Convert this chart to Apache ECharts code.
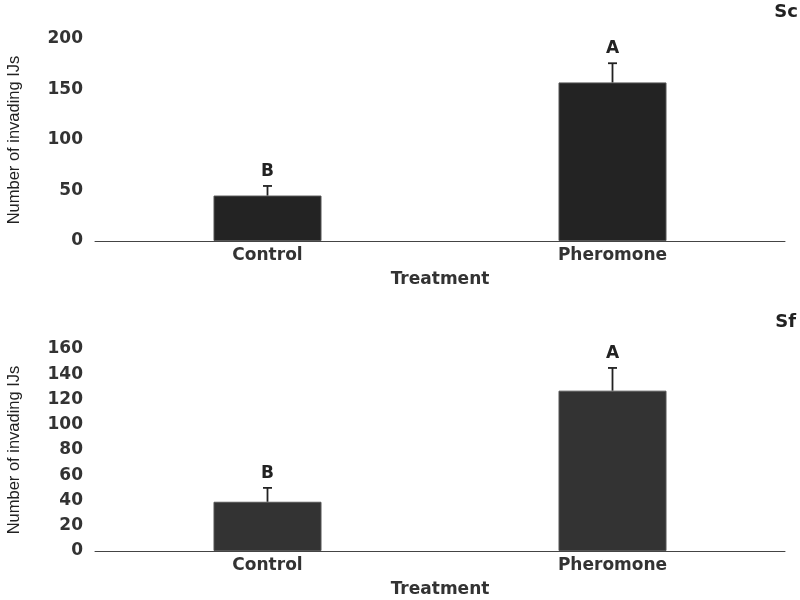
<!DOCTYPE html>
<html>
<head>
<meta charset="utf-8">
<script src="https://cdn.jsdelivr.net/npm/echarts@6/dist/echarts.min.js"></script>
<style>html,body{margin:0;padding:0;background:#fff}#main{width:800px;height:600px}</style>
</head>
<body>
<div id="main"></div>
<script>
const categories = ['Control', 'Pheromone'];
const scMeans = [45, 157];
const scErr = [9.5, 19];
const scLetters = ['B', 'A'];
const sfMeans = [39, 127];
const sfErr = [11, 18];
const sfLetters = ['B', 'A'];
const scTicks = {min: 0, max: 200, interval: 50};
const sfTicks = {min: 0, max: 160, interval: 20};

const boldFont = 'DejaVu Sans';
const txtColor = '#333';

function errSeries(idx, means, errs, letters) {
  return {
    type: 'custom',
    xAxisIndex: idx, yAxisIndex: idx,
    data: means.map((m, i) => [i, m, errs[i], letters[i]]),
    z: 5,
    renderItem: function (params, api) {
      const i = api.value(0), m = api.value(1), e = api.value(2);
      const base = api.coord([i, m]);
      const top = api.coord([i, m + e]);
      const lbl = letters[params.dataIndex];
      return {
        type: 'group',
        children: [
          {type: 'line', shape: {x1: base[0], y1: base[1], x2: top[0], y2: top[1]}, style: {stroke: '#222', lineWidth: 1.8}},
          {type: 'line', shape: {x1: top[0] - 4.5, y1: top[1], x2: top[0] + 4.5, y2: top[1]}, style: {stroke: '#222', lineWidth: 1.8}},
          {type: 'text', style: {text: lbl, x: top[0], y: top[1] - 6, align: 'center', verticalAlign: 'bottom', fontFamily: boldFont, fontWeight: 'bold', fontSize: 17, fill: '#222'}}
        ]
      };
    }
  };
}

function xAx(idx) {
  return {
    type: 'category', gridIndex: idx, data: categories,
    axisLine: {lineStyle: {color: '#444', width: 1}},
    axisTick: {show: false},
    axisLabel: {margin: 6, color: txtColor, fontFamily: boldFont, fontWeight: 'bold', fontSize: 17},
    name: 'Treatment', nameLocation: 'middle', nameGap: 30,
    nameTextStyle: {color: txtColor, fontFamily: boldFont, fontWeight: 'bold', fontSize: 17}
  };
}
function yAx(idx, t) {
  return {
    type: 'value', gridIndex: idx, min: t.min, max: t.max, interval: t.interval,
    axisLine: {show: false}, axisTick: {show: false}, splitLine: {show: false},
    axisLabel: {margin: 12, color: txtColor, fontFamily: boldFont, fontWeight: 'bold', fontSize: 17},
    name: 'Number of invading IJs', nameLocation: 'middle', nameGap: 72, nameRotate: 90,
    nameTextStyle: {color: '#222', fontFamily: 'Liberation Sans', fontSize: 16.5}
  };
}

const chart = echarts.init(document.getElementById('main'), null, {renderer: 'canvas'});
chart.setOption({
  backgroundColor: '#fff',
  animation: false,
  title: [
    {text: 'Sc', right: 2, top: 3, padding: 0, textStyle: {fontFamily: boldFont, fontWeight: 'bold', fontSize: 18, color: '#222'}},
    {text: 'Sf', right: 4, top: 313, padding: 0, textStyle: {fontFamily: boldFont, fontWeight: 'bold', fontSize: 18, color: '#222'}}
  ],
  grid: [
    {left: 95, top: 39, width: 690, height: 202, containLabel: false, outerBoundsMode: 'none'},
    {left: 95, top: 349, width: 690, height: 202, containLabel: false, outerBoundsMode: 'none'}
  ],
  xAxis: [xAx(0), xAx(1)],
  yAxis: [yAx(0, scTicks), yAx(1, sfTicks)],
  series: [
    {type: 'bar', xAxisIndex: 0, yAxisIndex: 0, data: scMeans, barWidth: 108, itemStyle: {color: '#232323', borderColor: '#555', borderWidth: 1}},
    errSeries(0, scMeans, scErr, scLetters),
    {type: 'bar', xAxisIndex: 1, yAxisIndex: 1, data: sfMeans, barWidth: 108, itemStyle: {color: '#333333', borderColor: '#555', borderWidth: 1}},
    errSeries(1, sfMeans, sfErr, sfLetters)
  ]
});
</script>
</body>
</html>
